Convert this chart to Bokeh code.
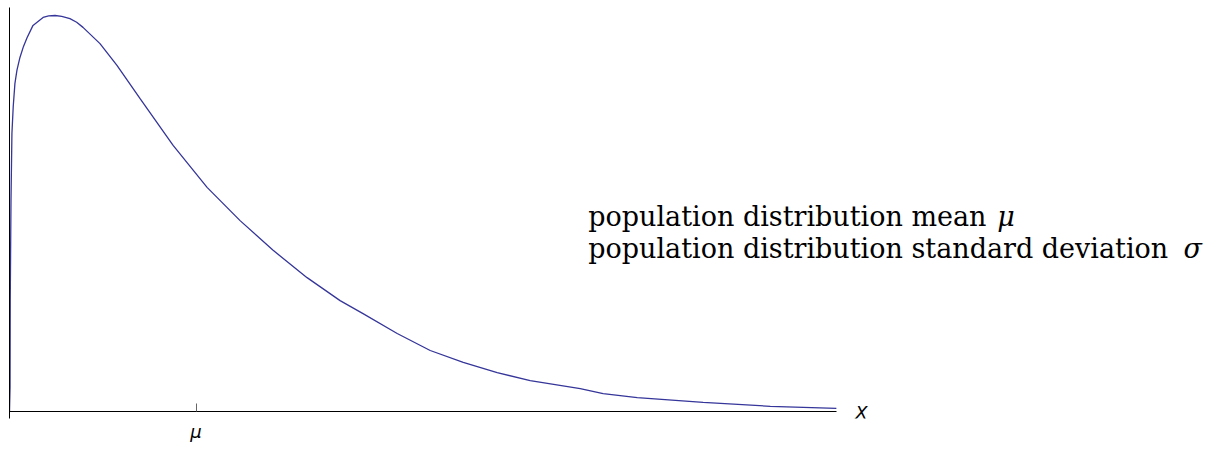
from bokeh.plotting import figure
from bokeh.models import Range1d, FixedTicker, Label, LinearAxis
from bokeh.embed import file_html
from bokeh.resources import INLINE

# curve (x in units of the mean, y relative to the peak)
curve_x = [0.0, 0.003, 0.004, 0.008, 0.013, 0.020, 0.029, 0.040, 0.056, 0.075, 0.094,
           0.126, 0.180, 0.210, 0.244, 0.280, 0.324, 0.360, 0.394, 0.485, 0.576,
           0.700, 0.877, 1.059, 1.236, 1.413, 1.595, 1.772, 1.895, 2.078, 2.255,
           2.432, 2.614, 2.791, 3.059, 3.182, 3.365, 3.718, 4.078, 4.432]
curve_y = [0.0, 0.061, 0.28, 0.533, 0.702, 0.770, 0.828, 0.862, 0.894, 0.922, 0.944,
           0.975, 0.995, 0.999, 1.000, 0.998, 0.992, 0.983, 0.970, 0.929, 0.874,
           0.790, 0.672, 0.566, 0.482, 0.407, 0.338, 0.280, 0.247, 0.197, 0.154,
           0.124, 0.098, 0.078, 0.058, 0.045, 0.035, 0.023, 0.013, 0.008]
tick_values = [1]
tick_labels = {1: "μ"}
axis_name = "X"
text_lines = ["population distribution mean ", "population distribution standard deviation "]
text_symbols = ["μ", "σ"]

p = figure(frame_width=1200, frame_height=415, output_backend="svg", toolbar_location=None,
           x_range=Range1d(0, 6.432), y_range=Range1d(-0.0177, 1.0303),
           x_axis_type=None, y_axis_type=None,
           min_border_left=9, min_border_right=0, min_border_top=3, min_border_bottom=31)
p.outline_line_color = None
p.xgrid.visible = False
p.ygrid.visible = False
p.background_fill_color = "white"

# axis line and tick mark drawn at y = 0 (tick as a minor tick, so no label text)
xa = LinearAxis(ticker=FixedTicker(ticks=[], minor_ticks=tick_values),
                bounds=(0, 4.432), fixed_location=0)
xa.major_tick_line_color = None
xa.minor_tick_in = 8
xa.minor_tick_out = 0
xa.minor_tick_line_color = "#666666"
xa.minor_tick_line_width = 1
xa.axis_line_color = "black"
xa.axis_line_width = 1
xa.major_label_standoff = 0
p.add_layout(xa, "below")

# tick label of the mean
xl = LinearAxis(ticker=FixedTicker(ticks=tick_values), bounds=(0, 4.432))
xl.major_label_overrides = tick_labels
xl.major_tick_in = 0
xl.major_tick_out = 0
xl.major_tick_line_color = None
xl.minor_tick_line_color = None
xl.axis_line_color = None
xl.major_label_standoff = 2
xl.major_label_text_font = "DejaVu Sans"
xl.major_label_text_font_style = "italic"
xl.major_label_text_font_size = "18px"
xl.major_label_text_color = "black"
p.add_layout(xl, "below")

ya = LinearAxis(ticker=FixedTicker(ticks=[]), bounds=(-0.0177, 1.0202))
ya.major_tick_line_color = None
ya.minor_tick_line_color = None
ya.axis_line_color = "black"
ya.axis_line_width = 1
p.add_layout(ya, "left")

p.line(curve_x, curve_y, line_color="#35359a", line_width=1.3)

p.add_layout(Label(x=4.432, y=0, x_offset=19, y_offset=-1, text=axis_name,
                   text_font="DejaVu Sans", text_font_style="italic", text_font_size="18px",
                   text_baseline="middle", text_align="left", text_color="black"))

line_y = [0.4924, 0.4116]
sym_x = [5.295, 6.292]
for t, s, yy, sx in zip(text_lines, text_symbols, line_y, sym_x):
    p.add_layout(Label(x=3.102, y=yy, text=t, text_font="DejaVu Serif",
                       text_font_size="27px", text_baseline="alphabetic",
                       text_align="left", text_color="black"))
    p.add_layout(Label(x=sx, y=yy, text=s, text_font="DejaVu Serif",
                       text_font_style="italic", text_font_size="27px",
                       text_baseline="alphabetic", text_align="left", text_color="black"))

open("out.html", "w").write(file_html(p, INLINE))
